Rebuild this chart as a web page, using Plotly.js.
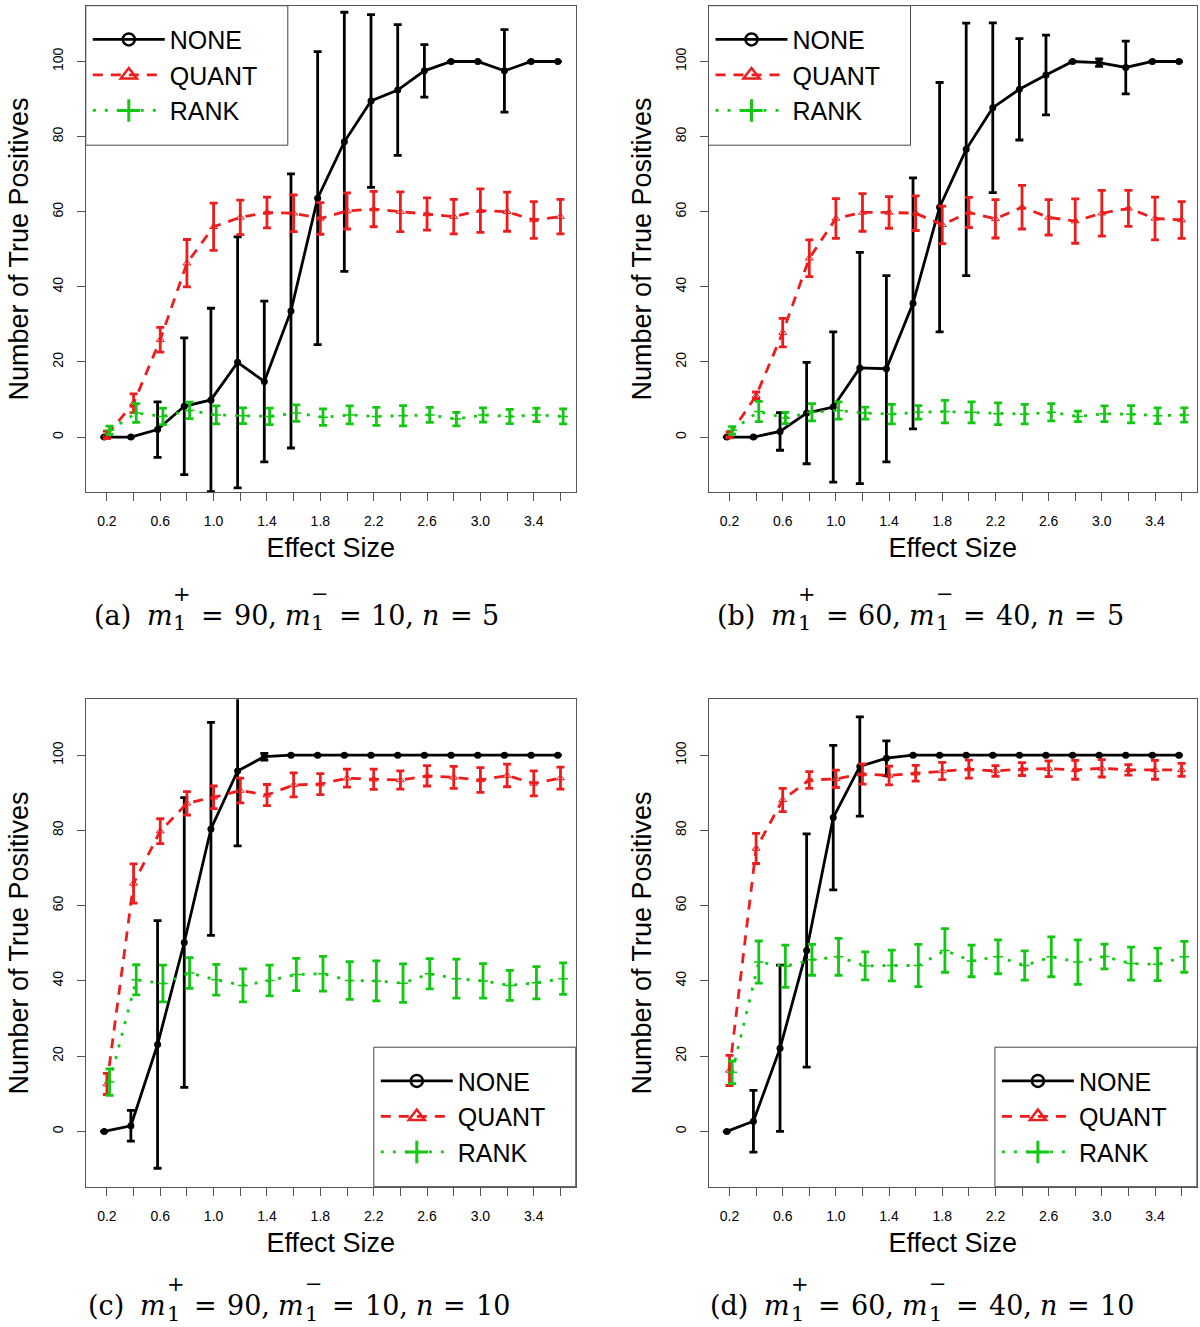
<!DOCTYPE html>
<html>
<head>
<meta charset="utf-8">
<script src="https://cdn.plot.ly/plotly-3.0.1.min.js"></script>
<style>html,body{margin:0;padding:0;background:#fff;}#chart{width:1200px;height:1327px;}</style>
</head>
<body>
<div id="chart"></div>
<script>
// ---------- DATA ----------
const effectSize = [0.2,0.4,0.6,0.8,1.0,1.2,1.4,1.6,1.8,2.0,2.2,2.4,2.6,2.8,3.0,3.2,3.4,3.6];
const tickLabels = ['0.2','0.6','1.0','1.4','1.8','2.2','2.6','3.0','3.4'];
const yTicks = [0,20,40,60,80,100];
const seriesNames = ['NONE','QUANT','RANK'];

// (a) m1+ = 90, m1- = 10, n = 5
const a_none      = [0,0,2.0,8.2,9.9,19.9,14.8,33.6,63.6,78.6,89.5,92.4,97.5,100,100,97.5,100,100];
const a_none_sd   = [0,0,7.4,18.2,24.4,33.4,21.4,36.5,39,34.5,23,17.4,7,0,0,11,0,0];
const a_quant     = [0.6,9.0,25.9,46.3,56.0,58.5,59.8,59.6,58.2,60.2,60.7,60.0,59.4,58.7,60.3,60.0,57.8,58.7];
const a_quant_sd  = [1,2.5,3.3,6.3,6.3,4.6,4.1,4.9,4.2,4.8,4.7,5.3,4.3,4.6,5.8,5.2,4.9,4.6];
const a_rank      = [1.8,6.4,5.5,7.1,5.9,5.7,5.5,6.4,5.3,5.9,5.5,5.7,5.9,4.8,5.9,5.5,5.9,5.5];
const a_rank_sd   = [1.1,2.5,2.2,2.2,2.4,2.1,2.2,2.2,2.2,2.4,2.4,2.7,2.0,1.8,1.9,1.9,1.8,2.0];

// (b) m1+ = 60, m1- = 40, n = 5
const b_none      = [0,0,1.5,6.4,8.0,18.4,18.2,35.6,61.2,76.6,87.7,92.6,96.4,100,99.7,98.4,100,100];
const b_none_sd   = [0,0,5,13.5,20,30.8,24.8,33.4,33.2,33.6,22.6,13.5,10.6,0,1,7,0,0];
const b_quant     = [0.6,11.0,27.8,47.6,58.2,59.8,59.8,59.6,56.5,59.8,58.1,61.2,58.5,57.5,59.6,60.9,58.2,57.8];
const b_quant_sd  = [0.8,1,3.8,4.9,5.3,5,4.2,4.6,5,4,5.1,5.8,4.7,5.9,6.1,4.8,5.7,4.9];
const b_rank      = [1.8,6.8,5.1,6.6,7.1,6.4,6.1,6.6,6.8,6.6,6.2,6.1,6.6,5.5,6.2,6.1,5.7,5.9];
const b_rank_sd   = [1,2.7,1.5,2.3,2.3,1.6,2.6,1.8,3,2.8,2.9,2.6,2.3,1.4,2.1,2.3,2.1,1.9];

// (c) m1+ = 90, m1- = 10, n = 10
const c_none      = [0,1.5,23.1,50.2,80.4,95.8,99.6,100,100,100,100,100,100,100,100,100,100,100];
const c_none_sd   = [0,4.1,32.9,38.5,28.3,19.9,0.9,0,0,0,0,0,0,0,0,0,0,0];
const c_quant     = [12.6,65.9,79.8,87.2,88.8,90.6,89.4,92.1,92.3,93.9,93.6,93.4,94.5,94.1,93.4,94.6,92.5,93.9];
const c_quant_sd  = [2.8,5.2,3.3,3.1,3.0,3.3,2.8,3.2,2.8,2.4,2.7,2.4,2.7,2.9,3.3,3.0,3.3,2.9];
const c_rank      = [13.1,40.3,39.3,42.1,40.3,38.8,40.1,41.7,41.9,40.1,40.0,39.4,41.9,40.6,40.0,38.8,39.5,40.6];
const c_rank_sd   = [3.5,4.0,4.9,4.1,4.1,4.4,4.1,4.3,4.6,5.0,5.3,5.1,4.0,5.2,4.6,4.0,4.3,4.2];

// (d) m1+ = 60, m1- = 40, n = 10
const d_none      = [0,2.7,22.1,48.1,83.4,97.0,99.2,100,100,100,100,100,100,100,100,100,100,100];
const d_none_sd   = [0,8.2,22.1,31,19.2,13.2,4.6,0,0,0,0,0,0,0,0,0,0,0];
const d_quant     = [16.2,75.2,88.1,93.4,93.7,95.0,94.6,95.2,95.8,96.3,95.8,96.3,96.4,96.1,96.5,96.1,96.1,96.1];
const d_quant_sd  = [4.0,4.0,3.1,2.2,2.3,2.7,2.5,2.1,2.3,2.4,1.4,1.7,2.1,2.5,2.3,1.4,2.5,1.7];
const d_rank      = [15.7,45.0,43.9,45.6,46.4,44.0,44.1,44.1,48.1,45.3,46.4,44.1,46.4,45.0,46.5,44.6,44.4,46.4];
const d_rank_sd   = [3.0,5.6,5.6,4.1,4.9,3.7,4.1,5.6,5.8,4.2,4.5,3.9,5.3,5.9,3.3,4.4,4.3,4.1];

// caption parameters
const capLabels = ['a','b','c','d'];
const capMPlus  = [90,60,90,60];
const capMMinus = [10,40,10,40];
const capN      = [5,5,10,10];

// ---------- STYLE ----------
const W = 1200, H = 1327;
const SANS = 'Liberation Sans, Arial, Helvetica, sans-serif';
const SERIF_NAME = 'DejaVu Serif';
const SERIF = 'DejaVu Serif, Liberation Serif, serif';
const FRAME = '#555555';
const styles = {
  NONE:  {color:'#000000', dash:'solid',     width:2.8, offset:-0.02,
          marker:{symbol:'circle', size:7, color:'#000000'},
          legMarker:{symbol:'circle-open', size:12, color:'#000000', line:{width:2.5, color:'#000000'}}},
  QUANT: {color:'#EE1C1C', dash:'10px,8px',  width:2.8, offset:0,
          marker:{symbol:'triangle-up-open', size:7, color:'#EE1C1C', line:{width:1, color:'#EE1C1C'}},
          legMarker:{symbol:'triangle-up-open', size:14, color:'#EE1C1C', line:{width:2.5, color:'#EE1C1C'}}},
  RANK:  {color:'#12C812', dash:'3px,9px',   width:2.8, offset:0.02,
          marker:{symbol:'cross-thin-open', size:7, color:'#12C812', line:{width:1.5, color:'#12C812'}},
          legMarker:{symbol:'cross-thin-open', size:16, color:'#12C812', line:{width:3, color:'#12C812'}}}
};

// panel geometry in pixels (frame box) and caption centre / baseline
const panels = [
  {means:[a_none,a_quant,a_rank], sds:[a_none_sd,a_quant_sd,a_rank_sd], box:[85.8,575.8,5.7,492.3],  leg:'TL', capX:295.6, capBase:625},
  {means:[b_none,b_quant,b_rank], sds:[b_none_sd,b_quant_sd,b_rank_sd], box:[708.5,1196.9,5.7,492.3], leg:'TL', capX:919.5, capBase:625},
  {means:[c_none,c_quant,c_rank], sds:[c_none_sd,c_quant_sd,c_rank_sd], box:[85.8,575.8,699.3,1186.7], leg:'BR', capX:298, capBase:1315},
  {means:[d_none,d_quant,d_rank], sds:[d_none_sd,d_quant_sd,d_rank_sd], box:[708.5,1196.9,699.3,1186.7], leg:'BR', capX:921, capBase:1315}
];

const labelVals = tickLabels.map(Number);

const data = [];
const layout = {
  width: W, height: H,
  margin: {l:0, r:0, t:0, b:0},
  paper_bgcolor: '#ffffff', plot_bgcolor: '#ffffff',
  font: {family: SANS, color: '#000000'},
  showlegend: true,
  shapes: [], annotations: []
};

// text measurement for the caption layout (math-style stacked scripts)
const ctx = document.createElement('canvas').getContext('2d');
function textW(t, size, italic) {
  ctx.font = (italic ? 'italic ' : '') + size + 'px "' + SERIF_NAME + '"';
  return ctx.measureText(t).width;
}
const CAP = 27, SCR = 21;
function addCaption(i, cx, base) {
  const toks = [
    {t:'(' + capLabels[i] + ')'}, {gap:16},
    {t:'m', it:true}, {gap:1}, {sup:'+', sub:'1'}, {gap:10},
    {t:'='}, {gap:10}, {t:capMPlus[i] + ','}, {gap:8},
    {t:'m', it:true}, {gap:1}, {sup:'\u2212', sub:'1'}, {gap:10},
    {t:'='}, {gap:10}, {t:capMMinus[i] + ','}, {gap:8},
    {t:'n', it:true}, {gap:10}, {t:'='}, {gap:10}, {t:String(capN[i])}
  ];
  let total = 0;
  toks.forEach(k => {
    if (k.gap) k.w = k.gap;
    else if (k.t !== undefined) k.w = textW(k.t, CAP, k.it);
    else k.w = Math.max(textW(k.sup, SCR, false), textW(k.sub, SCR, false));
    total += k.w;
  });
  let x = cx - total / 2;
  const mainC = base - 0.346 * CAP;
  toks.forEach(k => {
    if (k.t !== undefined) {
      layout.annotations.push({xref:'paper', yref:'paper', x: x / W, y: 1 - mainC / H,
        xanchor:'left', yanchor:'middle', showarrow:false, borderpad:0,
        text: k.it ? '<i>' + k.t + '</i>' : k.t, font:{size:CAP, family:SERIF, color:'#000'}});
    } else if (k.sup !== undefined) {
      layout.annotations.push({xref:'paper', yref:'paper', x: x / W, y: 1 - (base - 31) / H,
        xanchor:'left', yanchor:'middle', showarrow:false, borderpad:0,
        text: k.sup, font:{size:SCR, family:SERIF, color:'#000'}});
      layout.annotations.push({xref:'paper', yref:'paper', x: x / W, y: 1 - (base - 1.5) / H,
        xanchor:'left', yanchor:'middle', showarrow:false, borderpad:0,
        text: k.sub, font:{size:SCR, family:SERIF, color:'#000'}});
    }
    x += k.w;
  });
}

const LEGW = 202, LEGH = 139.5;

panels.forEach((p, i) => {
  const n = i + 1;
  const xa = 'xaxis' + (n === 1 ? '' : n), ya = 'yaxis' + (n === 1 ? '' : n);
  const xr = 'x' + (n === 1 ? '' : n), yr = 'y' + (n === 1 ? '' : n);
  const legName = 'legend' + (n === 1 ? '' : n);
  const [L, R, T, B] = p.box;
  layout[xa] = {
    domain: [L / W, R / W], anchor: yr,
    range: [0.042, 3.715], tickvals: labelVals, ticktext: tickLabels,
    ticks: 'outside', ticklen: 8, tickwidth: 1, tickcolor: FRAME,
    minor: {tick0: effectSize[0], dtick: effectSize[1] - effectSize[0], ticks: 'outside', ticklen: 8, tickwidth: 1, tickcolor: FRAME, showgrid: false},
    ticklabelstandoff: 8,
    showline: true, mirror: true, linecolor: FRAME, linewidth: 1,
    showgrid: false, zeroline: false,
    tickfont: {size: 14, family: SANS, color: '#000'},
    title: {text: 'Effect Size', font: {size: 27, family: SANS, color: '#000'}, standoff: 10},
    automargin: false
  };
  layout[ya] = {
    domain: [1 - B / H, 1 - T / H], anchor: xr,
    range: [-14.7, 114.85], tickvals: yTicks,
    tickangle: -90,
    ticks: 'outside', ticklen: 8, tickwidth: 1, tickcolor: FRAME,
    ticklabelstandoff: 8,
    showline: true, mirror: true, linecolor: FRAME, linewidth: 1,
    showgrid: false, zeroline: false,
    tickfont: {size: 14, family: SANS, color: '#000'},
    title: {text: 'Number of True Positives', font: {size: 27, family: SANS, color: '#000'}, standoff: 13},
    automargin: false
  };

  // legend box and legend
  let bx0, by0;
  if (p.leg === 'TL') { bx0 = L; by0 = T; } else { bx0 = R - LEGW; by0 = B - LEGH; }
  layout.shapes.push({type:'rect', xref:'paper', yref:'paper', layer:'below',
    x0: bx0 / W, x1: (bx0 + LEGW) / W, y0: 1 - (by0 + LEGH) / H, y1: 1 - by0 / H,
    line: {color: '#444444', width: 1}, fillcolor: '#ffffff'});
  layout[legName] = {
    x: (bx0 + 2) / W, y: 1 - (by0 + 11) / H, xanchor: 'left', yanchor: 'top',
    bgcolor: 'rgba(0,0,0,0)', borderwidth: 0,
    font: {size: 25, family: SANS, color: '#000'},
    itemwidth: 72, tracegroupgap: 0, traceorder: 'normal'
  };

  seriesNames.forEach((name, s) => {
    const st = styles[name];
    const sd = p.sds[s].map(v => v > 0 ? v : null);
    data.push({
      type: 'scatter', mode: 'lines+markers', name: name,
      x: effectSize.map(v => v + st.offset), y: p.means[s],
      xaxis: xr, yaxis: yr, showlegend: false,
      line: {color: st.color, width: st.width, dash: st.dash},
      marker: st.marker,
      error_y: {type: 'data', array: sd, visible: true, color: st.color, thickness: 2.8, width: 4}
    });
  });
  // legend entries
  seriesNames.forEach((name) => {
    const st = styles[name];
    data.push({
      type: 'scatter', mode: 'lines+markers', name: name,
      x: [null], y: [null], xaxis: xr, yaxis: yr,
      legend: legName, showlegend: true,
      line: {color: st.color, width: 2.8, dash: st.dash},
      marker: st.legMarker
    });
  });

  addCaption(i, p.capX, p.capBase);
});

Plotly.newPlot('chart', data, layout, {displayModeBar: false, staticPlot: true});
</script>
</body>
</html>
